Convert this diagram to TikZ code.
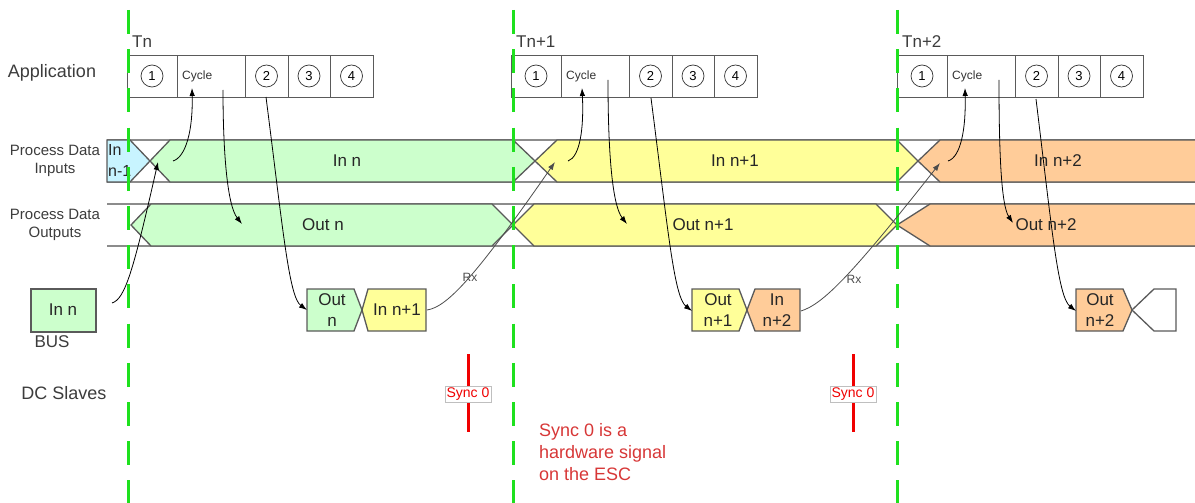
\documentclass[tikz,border=0pt]{standalone}
\usepackage{fontspec}
\setmainfont{Liberation Sans}
\usetikzlibrary{arrows.meta}
\definecolor{tgreen}{RGB}{30,225,30}
\definecolor{cgreen}{RGB}{204,255,204}
\definecolor{cyellow}{RGB}{255,255,153}
\definecolor{corange}{RGB}{255,204,153}
\definecolor{ccyan}{RGB}{200,244,255}
\definecolor{edgec}{RGB}{90,90,90}
\definecolor{laneg}{RGB}{140,140,140}
\definecolor{txt}{RGB}{60,60,60}
\definecolor{notered}{RGB}{215,55,55}
\definecolor{syncred}{RGB}{240,0,0}
\newcommand{\myfs}[2]{\fontsize{#1}{#2}\selectfont}
\begin{document}
\begin{tikzpicture}[x=1pt,y=-1pt,
  seg/.style={draw=edgec, line width=1.3pt, line join=miter},
  laneline/.style={draw=laneg, line width=1.2pt},
  cell/.style={draw=edgec, line width=0.8pt, fill=white},
  num/.style={circle, draw=black!80, line width=0.7pt, minimum size=22pt, inner sep=0pt, font=\myfs{13}{13}},
  tl/.style={draw=tgreen, line width=3pt, dash pattern=on 24pt off 15.2pt},
  arr/.style={draw=black, line width=0.8pt, -{Latex[length=8pt,width=5.5pt]}},
  rxarr/.style={draw=black!70, line width=0.8pt, -{Latex[length=8pt,width=5.5pt]}},
  lbl/.style={text=txt, align=center, inner sep=0pt},
  dtxt/.style={text=black!85, inner sep=0pt, font=\myfs{17}{17}},
  btxt/.style={text=black!85, inner sep=0pt, align=center, font=\myfs{17}{21}},
  syncline/.style={draw=syncred, line width=3pt},
  syncbox/.style={fill=white, draw=black!25, line width=0.5pt, text=syncred, font=\myfs{14}{14}, inner sep=1.5pt},
  rxl/.style={text=black!70, font=\myfs{12}{12}, inner sep=0pt}
]
\useasboundingbox (0,0) rectangle (1195,503);

% ---------- side labels ----------
\node[lbl, font=\myfs{18}{18}] (appl) at (52,73) {Application};
\node[lbl, font=\myfs{15}{18}] (pdi) at (55,161) {Process Data\\Inputs};
\node[lbl, font=\myfs{15}{18}] (pdo) at (55,225) {Process Data\\Outputs};
\node[lbl, font=\myfs{17}{17}] (busl) at (52,342) {BUS};
\node[lbl, font=\myfs{18}{18}] (dcs) at (64,393) {DC Slaves};

% ---------- application rows ----------
\foreach \i/\x/\lab in {1/127/Tn, 2/511/Tn+1, 3/897/Tn+2}{
  \draw[cell] (\x,55) rectangle ++(50,42);
  \draw[cell] (\x+50,55) rectangle ++(68,42);
  \draw[cell] (\x+118,55) rectangle ++(43,42);
  \draw[cell] (\x+161,55) rectangle ++(42,42);
  \draw[cell] (\x+203,55) rectangle ++(43,42);
  \node[num] (c1-\i) at (\x+25,76) {1};
  \node[anchor=west, inner sep=0pt, font=\myfs{12}{12}, text=black!80] (cyc-\i) at (\x+55,76) {Cycle};
  \node[num] (c2-\i) at (\x+139.5,76) {2};
  \node[num] (c3-\i) at (\x+182,76) {3};
  \node[num] (c4-\i) at (\x+224.5,76) {4};
  \node[anchor=west, inner sep=0pt, font=\myfs{17}{17}, text=txt] (t-\i) at (\x+5,42) {\lab};
}

% ---------- lane lines ----------
\draw[laneline] (107,140) -- (1200,140);
\draw[laneline] (107,182) -- (1200,182);
\draw[laneline] (107,204) -- (1200,204);
\draw[laneline] (107,246) -- (1200,246);

% ---------- inputs lane ----------
\draw[seg, fill=ccyan] (107,140) -- (130,140) -- (150,161) -- (130,182) -- (107,182) -- cycle;
\draw[seg, fill=cgreen] (170,140) -- (513,140) -- (535,161) -- (513,182) -- (170,182) -- (150,161) -- cycle;
\draw[seg, fill=cyellow] (557,140) -- (897,140) -- (918,161) -- (897,182) -- (557,182) -- (535,161) -- cycle;
\fill[corange] (940,140) -- (1200,140) -- (1200,182) -- (940,182) -- (918,161) -- cycle;
\draw[seg] (1200,140) -- (940,140) -- (918,161) -- (940,182) -- (1200,182);

% ---------- outputs lane ----------
\draw[seg, fill=cgreen] (151,204) -- (492,204) -- (513,225) -- (492,246) -- (151,246) -- (131,225) -- cycle;
\draw[seg, fill=cyellow] (534,204) -- (876,204) -- (897,225) -- (876,246) -- (534,246) -- (513,225) -- cycle;
\fill[corange] (930,204) -- (1200,204) -- (1200,246) -- (930,246) -- (897,225) -- cycle;
\draw[seg] (1200,204) -- (930,204) -- (897,225) -- (930,246) -- (1200,246);

% ---------- bus boxes ----------
\draw[seg, fill=cgreen] (31,289) rectangle (96,332);
\draw[seg, fill=cgreen] (307,289) -- (354,289) -- (362,310) -- (354,331) -- (307,331) -- cycle;
\draw[seg, fill=cyellow] (368,289) -- (426,289) -- (426,331) -- (368,331) -- (362,310) -- cycle;
\draw[seg, fill=cyellow] (692,289) -- (739,289) -- (747,310) -- (739,331) -- (692,331) -- cycle;
\draw[seg, fill=corange] (755,289) -- (800,289) -- (800,331) -- (755,331) -- (747,310) -- cycle;
\draw[seg, fill=corange] (1076,289) -- (1123,289) -- (1132,310) -- (1123,331) -- (1076,331) -- cycle;
\draw[seg, fill=white] (1154,289) -- (1176,289) -- (1176,331) -- (1154,331) -- (1132,310) -- cycle;

% ---------- data texts ----------
\node[btxt, anchor=west, align=left, font=\myfs{16}{21}] (inm1) at (108,160) {In\\n-1};
\node[dtxt] (inn) at (347,161) {In n};
\node[dtxt] (inn1) at (735,161) {In n+1};
\node[dtxt] (inn2) at (1058,161) {In n+2};
\node[dtxt] (outn) at (323,225) {Out n};
\node[dtxt] (outn1) at (703,225) {Out n+1};
\node[dtxt] (outn2) at (1046,225) {Out n+2};
\node[btxt] (busin) at (63,310) {In n};
\node[btxt] (bout1) at (332,310) {Out\\n};
\node[btxt] (bin1) at (397,310) {In n+1};
\node[btxt] (bout2) at (718,310) {Out\\n+1};
\node[btxt] (bin2) at (777,310) {In\\n+2};
\node[btxt] (bout3) at (1100,310) {Out\\n+2};

% ---------- time lines ----------
\foreach \x in {128,513,897}{
  \draw[tl] (\x,10) -- (\x,503);
}

% ---------- arrow end points ----------
\coordinate (a1s) at (173,161); \coordinate (a1e) at (192,88);
\coordinate (b1s) at (223,90);  \coordinate (b1e) at (242,224);
\coordinate (c1s) at (266,97);  \coordinate (c1e) at (307,310);
\coordinate (d1s) at (112,303); \coordinate (d1e) at (158,162);
\coordinate (a2s) at (568,161); \coordinate (a2e) at (582,88);
\coordinate (b2s) at (608,80);  \coordinate (b2e) at (627,224);
\coordinate (c2s) at (651,98);  \coordinate (c2e) at (692,311);
\coordinate (r1s) at (427,310); \coordinate (r1e) at (555,162);
\coordinate (a3s) at (948,161); \coordinate (a3e) at (965,88);
\coordinate (b3s) at (999,80);  \coordinate (b3e) at (1013,223);
\coordinate (c3s) at (1036,99); \coordinate (c3e) at (1076,311);
\coordinate (r2s) at (801,311); \coordinate (r2e) at (940,163);

% ---------- arrows ----------
\draw[arr] (a1s) .. controls (186,157) and (193,130) .. (a1e);
\draw[arr] (b1s) .. controls (223,150) and (227,205) .. (b1e);
\draw[arr] (c1s) .. controls (283,230) and (289,297) .. (c1e);
\draw[arr] (d1s) .. controls (125,299) and (133,272) .. (d1e);
\draw[arr] (a2s) .. controls (580,157) and (584,128) .. (a2e);
\draw[arr] (b2s) .. controls (608,150) and (612,205) .. (b2e);
\draw[arr] (c2s) .. controls (668,230) and (674,297) .. (c2e);
\draw[rxarr] (r1s) .. controls (448,307) and (478,273) .. (r1e);
\draw[arr] (a3s) .. controls (961,157) and (966,128) .. (a3e);
\draw[arr] (b3s) .. controls (999,150) and (1001,205) .. (b3e);
\draw[arr] (c3s) .. controls (1052,230) and (1058,297) .. (c3e);
\draw[rxarr] (r2s) .. controls (823,304) and (851,276) .. (r2e);
\node[rxl] (rx1) at (470,277) {Rx};
\node[rxl] (rx2) at (854,279) {Rx};

% ---------- sync ----------
\coordinate (s1t) at (468,354); \coordinate (s1b) at (468,432);
\coordinate (s2t) at (853,354); \coordinate (s2b) at (853,432);
\draw[syncline] (s1t) -- (s1b);
\draw[syncline] (s2t) -- (s2b);
\node[syncbox] (sy1) at (468,394) {Sync 0};
\node[syncbox] (sy2) at (853,394) {Sync 0};
\node[anchor=north west, align=left, inner sep=0pt, text=notered, font=\myfs{18}{22}] (note) at (539,423) {Sync 0 is a\\hardware signal\\on the ESC};
\end{tikzpicture}
\end{document}
